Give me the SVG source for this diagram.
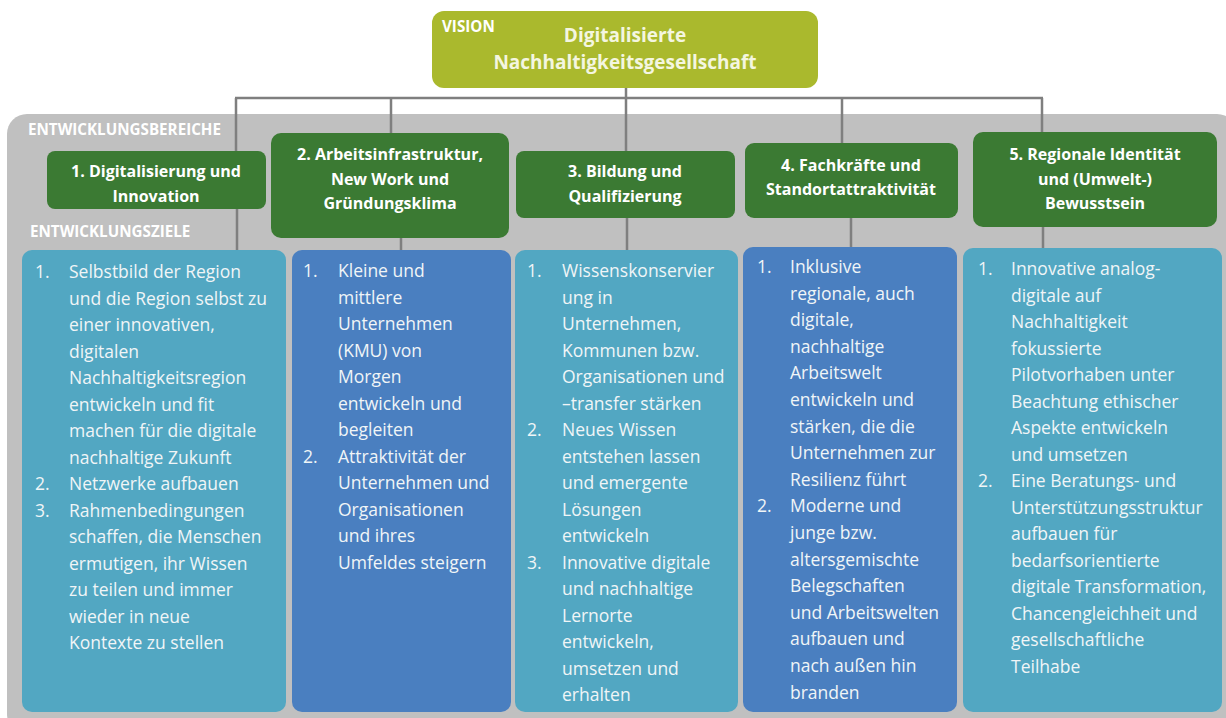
<svg xmlns="http://www.w3.org/2000/svg" width="1226" height="718" viewBox="0 0 1226 718">
<style>
.panel{fill:#c0c0c0}
.vision{fill:#aab92d}
.hdr{fill:#3b7a33}
.teal{fill:#52a7c2}
.blue{fill:#4a7fc0}
.conn{stroke:#7f7f7f;stroke-width:2.5;fill:none}
.lbl{font-family:"Open Sans","Noto Sans",sans-serif;font-weight:bold;fill:#ffffff;font-size:15.2px}
.vt{font-family:"Open Sans","Noto Sans",sans-serif;font-weight:bold;fill:#f4f6e0;font-size:19px;text-anchor:middle}
.ht{font-family:"Open Sans","Noto Sans",sans-serif;font-weight:bold;fill:#ffffff;font-size:16px;text-anchor:middle}
.bt{font-family:"Open Sans","Noto Sans",sans-serif;fill:#f0f5f7;font-size:17.5px}
</style>
<rect class="panel" x="7" y="114" width="1230" height="620" rx="20"/>
<text class="lbl" x="28" y="135">ENTWICKLUNGSBEREICHE</text>
<text class="lbl" x="30" y="237">ENTWICKLUNGSZIELE</text>

<g id="connectors">
<line class="conn" x1="626" y1="88" x2="626" y2="151"/>
<line class="conn" x1="235" y1="98" x2="1043" y2="98"/>
<line class="conn" x1="236" y1="98" x2="236" y2="152"/>
<line class="conn" x1="391" y1="98" x2="391" y2="133"/>
<line class="conn" x1="842" y1="98" x2="842" y2="143"/>
<line class="conn" x1="1042" y1="98" x2="1042" y2="132"/>
<line class="conn" x1="237" y1="208" x2="237" y2="251"/>
<line class="conn" x1="401" y1="237" x2="401" y2="251"/>
<line class="conn" x1="627" y1="217" x2="627" y2="251"/>
<line class="conn" x1="851" y1="217" x2="851" y2="248"/>
<line class="conn" x1="1043" y1="227" x2="1043" y2="249"/>
</g>

<g id="vision">
<rect class="vision" x="432" y="11" width="386" height="77" rx="12"/>
<text class="lbl" x="442" y="32">VISION</text>
<text class="vt" x="625" y="42">Digitalisierte</text>
<text class="vt" x="625" y="69">Nachhaltigkeitsgesellschaft</text>
</g>

<g id="h1">
<rect class="hdr" x="47" y="151" width="219" height="58" rx="8"/>
<text class="ht" x="156" y="177">1. Digitalisierung  und</text>
<text class="ht" x="156" y="202">Innovation</text>
</g>
<g id="h2">
<rect class="hdr" x="271" y="133" width="238" height="105" rx="10"/>
<text class="ht" x="390" y="160">2. Arbeitsinfrastruktur,</text>
<text class="ht" x="390" y="185">New Work und</text>
<text class="ht" x="390" y="209">Gründungsklima</text>
</g>
<g id="h3">
<rect class="hdr" x="516" y="151" width="219" height="67" rx="8"/>
<text class="ht" x="625" y="177">3. Bildung und</text>
<text class="ht" x="625" y="202">Qualifizierung</text>
</g>
<g id="h4">
<rect class="hdr" x="745" y="143" width="213" height="75" rx="9"/>
<text class="ht" x="851" y="171">4. Fachkräfte und</text>
<text class="ht" x="851" y="195">Standortattraktivität</text>
</g>
<g id="h5">
<rect class="hdr" x="973" y="132" width="244" height="95" rx="10"/>
<text class="ht" x="1095" y="160">5. Regionale Identität</text>
<text class="ht" x="1095" y="185">und (Umwelt-)</text>
<text class="ht" x="1095" y="209">Bewusstsein</text>
</g>

<g id="b1">
<rect class="teal" x="22" y="250" width="264" height="462" rx="10"/>
<text class="bt">
<tspan x="35" y="278">1.</tspan><tspan x="69" y="278">Selbstbild der Region</tspan>
<tspan x="69" y="304.5">und die Region selbst zu</tspan>
<tspan x="69" y="331">einer innovativen,</tspan>
<tspan x="69" y="357.5">digitalen</tspan>
<tspan x="69" y="384">Nachhaltigkeitsregion</tspan>
<tspan x="69" y="410.5">entwickeln und fit</tspan>
<tspan x="69" y="437">machen für die digitale</tspan>
<tspan x="69" y="463.5">nachhaltige Zukunft</tspan>
<tspan x="35" y="490">2.</tspan><tspan x="69" y="490">Netzwerke  aufbauen</tspan>
<tspan x="35" y="516.5">3.</tspan><tspan x="69" y="516.5">Rahmenbedingungen</tspan>
<tspan x="69" y="543">schaffen, die Menschen</tspan>
<tspan x="69" y="569.5">ermutigen, ihr Wissen</tspan>
<tspan x="69" y="596">zu teilen und immer</tspan>
<tspan x="69" y="622.5">wieder  in neue</tspan>
<tspan x="69" y="649">Kontexte zu stellen</tspan>
</text>
</g>

<g id="b2">
<rect class="blue" x="292" y="250" width="219" height="462" rx="10"/>
<text class="bt">
<tspan x="303" y="277">1.</tspan><tspan x="338" y="277">Kleine und</tspan>
<tspan x="338" y="303.5">mittlere</tspan>
<tspan x="338" y="330">Unternehmen</tspan>
<tspan x="338" y="356.5">(KMU) von</tspan>
<tspan x="338" y="383">Morgen</tspan>
<tspan x="338" y="409.5">entwickeln und</tspan>
<tspan x="338" y="436">begleiten</tspan>
<tspan x="303" y="462.5">2.</tspan><tspan x="338" y="462.5">Attraktivität der</tspan>
<tspan x="338" y="489">Unternehmen und</tspan>
<tspan x="338" y="515.5">Organisationen</tspan>
<tspan x="338" y="542">und ihres</tspan>
<tspan x="338" y="568.5">Umfeldes  steigern</tspan>
</text>
</g>

<g id="b3">
<rect class="teal" x="515" y="250" width="223" height="462" rx="10"/>
<text class="bt">
<tspan x="527" y="277">1.</tspan><tspan x="562" y="277">Wissenskonservier</tspan>
<tspan x="562" y="303.5">ung in</tspan>
<tspan x="562" y="330">Unternehmen,</tspan>
<tspan x="562" y="356.5">Kommunen bzw.</tspan>
<tspan x="562" y="383">Organisationen und</tspan>
<tspan x="562" y="409.5">–transfer  stärken</tspan>
<tspan x="527" y="436">2.</tspan><tspan x="562" y="436">Neues Wissen</tspan>
<tspan x="562" y="462.5">entstehen  lassen</tspan>
<tspan x="562" y="489">und emergente</tspan>
<tspan x="562" y="515.5">Lösungen</tspan>
<tspan x="562" y="542">entwickeln</tspan>
<tspan x="527" y="568.5">3.</tspan><tspan x="562" y="568.5">Innovative  digitale</tspan>
<tspan x="562" y="595">und nachhaltige</tspan>
<tspan x="562" y="621.5">Lernorte</tspan>
<tspan x="562" y="648">entwickeln,</tspan>
<tspan x="562" y="674.5">umsetzen und</tspan>
<tspan x="562" y="701">erhalten</tspan>
</text>
</g>

<g id="b4">
<rect class="blue" x="743" y="247" width="214" height="465" rx="10"/>
<text class="bt">
<tspan x="757" y="273">1.</tspan><tspan x="790" y="273">Inklusive</tspan>
<tspan x="790" y="299.6">regionale, auch</tspan>
<tspan x="790" y="326.2">digitale,</tspan>
<tspan x="790" y="352.8">nachhaltige</tspan>
<tspan x="790" y="379.4">Arbeitswelt</tspan>
<tspan x="790" y="406">entwickeln und</tspan>
<tspan x="790" y="432.6">stärken, die die</tspan>
<tspan x="790" y="459.2">Unternehmen  zur</tspan>
<tspan x="790" y="485.8">Resilienz führt</tspan>
<tspan x="757" y="512.4">2.</tspan><tspan x="790" y="512.4">Moderne und</tspan>
<tspan x="790" y="539">junge bzw.</tspan>
<tspan x="790" y="565.6">altersgemischte</tspan>
<tspan x="790" y="592.2">Belegschaften</tspan>
<tspan x="790" y="618.8">und Arbeitswelten</tspan>
<tspan x="790" y="645.4">aufbauen und</tspan>
<tspan x="790" y="672">nach außen hin</tspan>
<tspan x="790" y="698.6">branden</tspan>
</text>
</g>

<g id="b5">
<rect class="teal" x="963" y="248" width="259" height="464" rx="10"/>
<text class="bt">
<tspan x="978" y="275">1.</tspan><tspan x="1011" y="275">Innovative  analog-</tspan>
<tspan x="1011" y="301.5">digitale auf</tspan>
<tspan x="1011" y="328">Nachhaltigkeit</tspan>
<tspan x="1011" y="354.5">fokussierte</tspan>
<tspan x="1011" y="381">Pilotvorhaben  unter</tspan>
<tspan x="1011" y="407.5">Beachtung  ethischer</tspan>
<tspan x="1011" y="434">Aspekte entwickeln</tspan>
<tspan x="1011" y="460.5">und umsetzen</tspan>
<tspan x="978" y="487">2.</tspan><tspan x="1011" y="487">Eine Beratungs- und</tspan>
<tspan x="1011" y="513.5">Unterstützungsstruktur</tspan>
<tspan x="1011" y="540">aufbauen für</tspan>
<tspan x="1011" y="566.5">bedarfsorientierte</tspan>
<tspan x="1011" y="593">digitale Transformation,</tspan>
<tspan x="1011" y="619.5">Chancengleichheit  und</tspan>
<tspan x="1011" y="646">gesellschaftliche</tspan>
<tspan x="1011" y="672.5">Teilhabe</tspan>
</text>
</g>
</svg>
